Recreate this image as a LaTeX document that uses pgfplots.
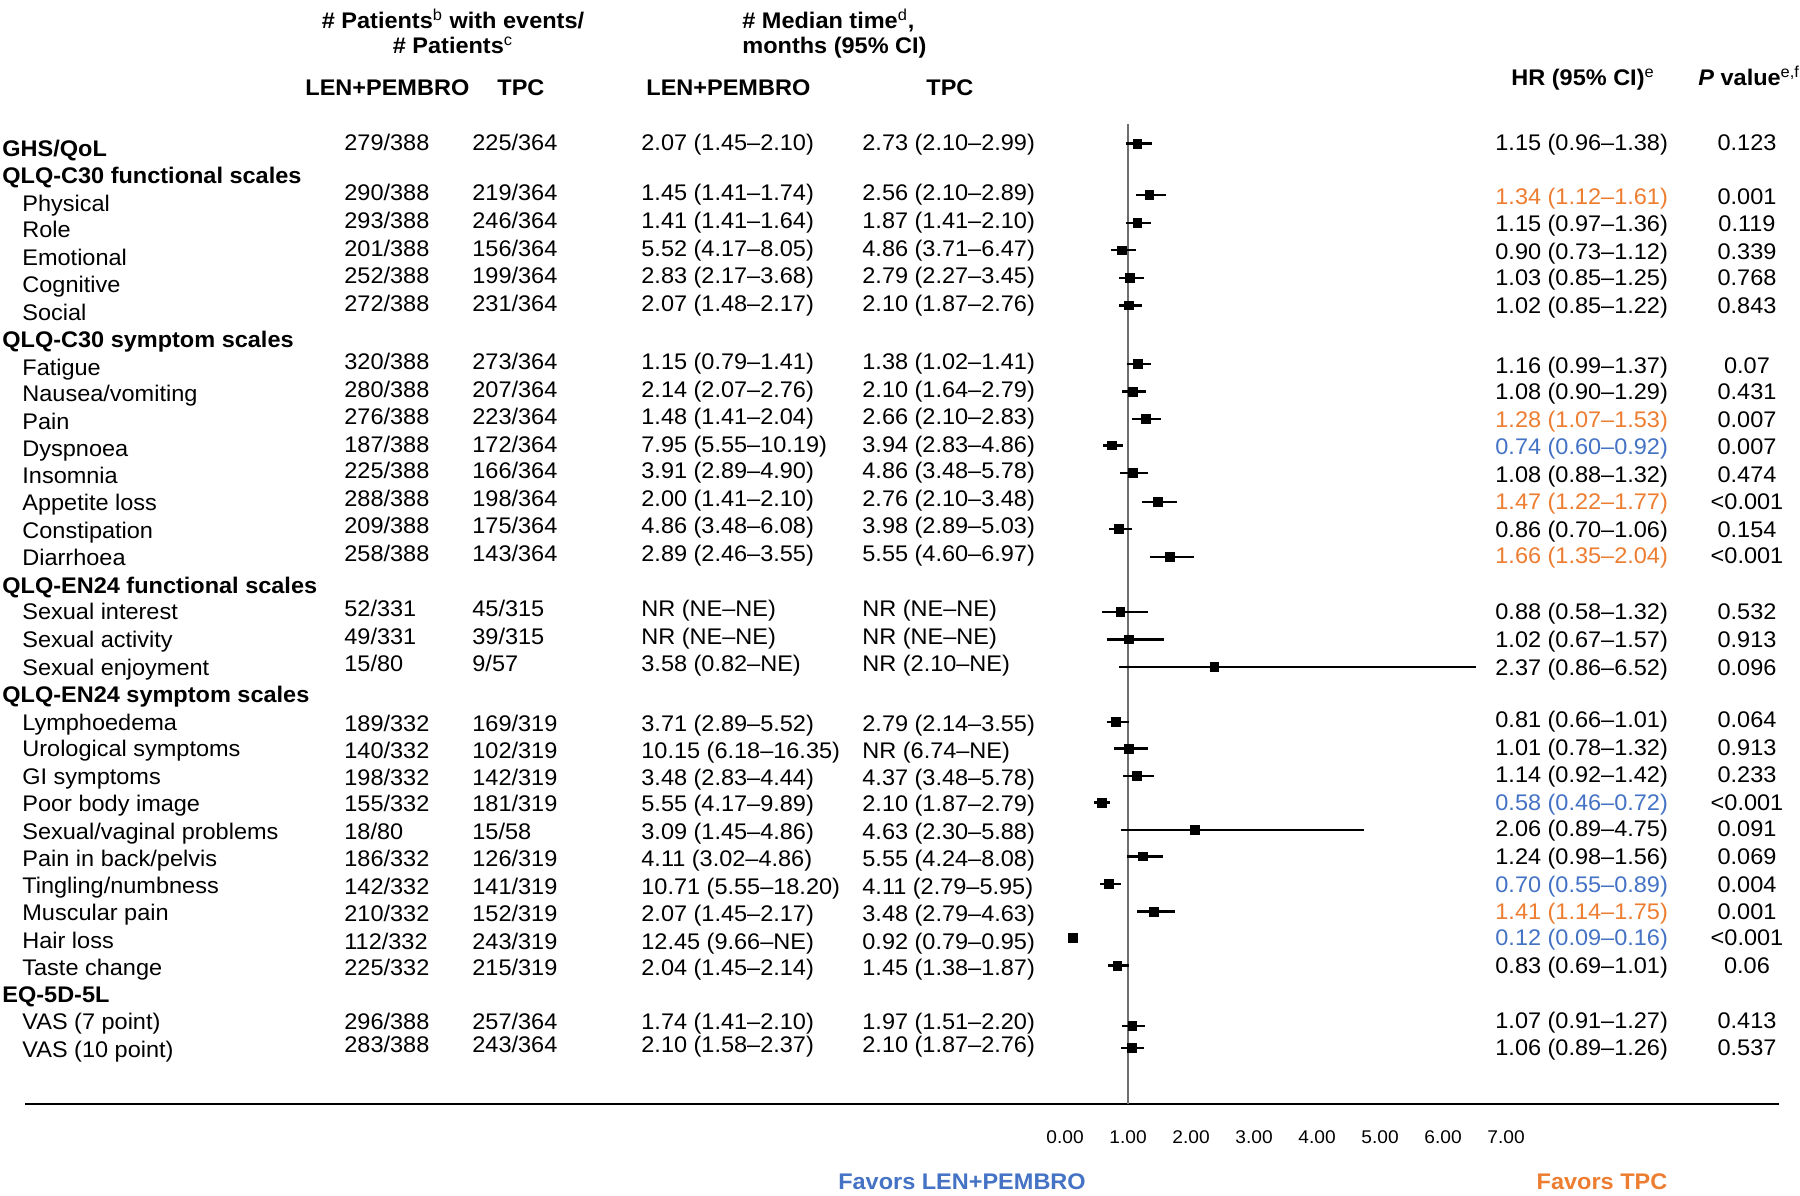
\documentclass[border=0pt]{standalone}
\usepackage{fontspec}
\setmainfont{Liberation Sans}[FakeStretch=1.04]
\usepackage{pgfplots}
\pgfplotsset{compat=1.18}
\usepackage{pgfplotstable}
\definecolor{favblue}{HTML}{4472C4}
\definecolor{favorange}{HTML}{ED7D31}
\definecolor{refgray}{HTML}{6E6E6E}

% y = -(row position in pixels), hr = hazard ratio, lo/hi = 95% CI
\pgfplotstableread{
y hr lo hi
-143.5 1.15 0.96 1.38
-195.2 1.34 1.12 1.61
-222.7 1.15 0.97 1.36
-250.3 0.90 0.73 1.12
-277.8 1.03 0.85 1.25
-305.4 1.02 0.85 1.22
-363.9 1.16 0.99 1.37
-391.5 1.08 0.90 1.29
-419.0 1.28 1.07 1.53
-445.4 0.74 0.60 0.92
-473.0 1.08 0.88 1.32
-501.7 1.47 1.22 1.77
-529.2 0.86 0.70 1.06
-556.8 1.66 1.35 2.04
-611.9 0.88 0.58 1.32
-639.4 1.02 0.67 1.57
-667.0 2.37 0.86 6.52
-722.0 0.81 0.66 1.01
-748.5 1.01 0.78 1.32
-776.0 1.14 0.92 1.42
-802.5 0.58 0.46 0.72
-830.0 2.06 0.89 4.75
-856.4 1.24 0.98 1.56
-884.0 0.70 0.55 0.89
-911.5 1.41 1.14 1.75
-937.9 0.12 0.09 0.16
-965.5 0.83 0.69 1.01
-1026.0 1.07 0.91 1.27
-1048.0 1.06 0.89 1.26
}\hrdata

\tikzset{
  t/.style={anchor=base west, inner sep=0pt, yshift=-4pt},
  tc/.style={anchor=base, inner sep=0pt, yshift=-4pt},
}
\newcommand\sups[1]{\textsuperscript{\mdseries #1}}
\newcommand\drow[8]{%
  \node[t] at (344,#1) {#3};
  \node[t] at (472,#1) {#4};
  \node[t] at (641,#1) {#5};
  \node[t] at (862,#1) {#6};
  \node[t] at (1495,#2) {#7};
  \node[tc] at (1747,#2) {#8};}
\newcommand\grp[2]{\node[t] at (2,#1) {\bfseries #2};}
\newcommand\lab[2]{\node[t] at (22,#1) {#2};}

\begin{document}
\fontsize{11.3}{13.5}\selectfont
\begin{tikzpicture}
\useasboundingbox (0pt,0pt) rectangle (900pt,-597.5pt);
\begin{axis}[
  at={(12.5pt,-552pt)}, anchor=south west,
  scale only axis, width=877pt, height=490pt,
  xmin=-16.508, xmax=11.333, ymin=-1104, ymax=-124,
  axis x line=bottom, axis y line=none,
  x axis line style={-, line width=1.25pt, black},
  xtick={0,1,...,7},
  xticklabels={0.00,1.00,2.00,3.00,4.00,5.00,6.00,7.00},
  major tick length=0pt,
  xticklabel style={font=\fontsize{9.2}{10}\selectfont, yshift=-9.5pt},
  /pgf/number format/assume math mode=true,
  clip=false,
]
\draw[refgray, line width=1pt] (axis cs:1,-124) -- (axis cs:1,-1104);
\addplot[only marks, mark=square*, mark size=2.2pt, black,
  mark options={fill=black, draw=black},
  error bars/.cd, x dir=both, x explicit, error mark=none,
  error bar style={line width=1.1pt, black}]
  table[x=hr, y=y,
    x error plus expr=\thisrow{hi}-\thisrow{hr},
    x error minus expr=\thisrow{hr}-\thisrow{lo}] {\hrdata};
\end{axis}

\begin{scope}[x=0.5pt,y=-0.5pt]
% headers
\node[tc] at (453,20) {\bfseries \# Patients\sups{b} with events/};
\node[tc] at (453,45) {\bfseries \# Patients\sups{c}};
\node[t] at (742,20) {\bfseries \# Median time\sups{d},};
\node[t] at (742,45) {\bfseries months (95\% CI)};
\node[t] at (305,87) {\bfseries LEN+PEMBRO};
\node[t] at (497,87) {\bfseries TPC};
\node[t] at (646,87) {\bfseries LEN+PEMBRO};
\node[t] at (926,87) {\bfseries TPC};
\node[t] at (1511,77) {\bfseries HR (95\% CI)\sups{e}};
\node[t] at (1698,77) {\bfseries\itshape P\upshape\ value\sups{e,f}};

\grp{148}{GHS/QoL}
\drow{142.4}{142.4}{279/388}{225/364}{2.07 (1.45–2.10)}{2.73 (2.10–2.99)}{1.15 (0.96–1.38)}{0.123}
\grp{175.6}{QLQ-C30 functional scales}
\lab{203}{Physical}
\drow{192.9}{196.3}{290/388}{219/364}{1.45 (1.41–1.74)}{2.56 (2.10–2.89)}{\color{favorange}1.34 (1.12–1.61)}{0.001}
\lab{229.6}{Role}
\drow{220.4}{223.9}{293/388}{246/364}{1.41 (1.41–1.64)}{1.87 (1.41–2.10)}{1.15 (0.97–1.36)}{0.119}
\lab{257}{Emotional}
\drow{248}{251.4}{201/388}{156/364}{5.52 (4.17–8.05)}{4.86 (3.71–6.47)}{0.90 (0.73–1.12)}{0.339}
\lab{284.7}{Cognitive}
\drow{275.5}{277.8}{252/388}{199/364}{2.83 (2.17–3.68)}{2.79 (2.27–3.45)}{1.03 (0.85–1.25)}{0.768}
\lab{312}{Social}
\drow{303}{305.4}{272/388}{231/364}{2.07 (1.48–2.17)}{2.10 (1.87–2.76)}{1.02 (0.85–1.22)}{0.843}
\grp{339.8}{QLQ-C30 symptom scales}
\lab{367}{Fatigue}
\drow{361.6}{365}{320/388}{273/364}{1.15 (0.79–1.41)}{1.38 (1.02–1.41)}{1.16 (0.99–1.37)}{0.07}
\lab{393.8}{Nausea/vomiting}
\drow{389.2}{391.5}{280/388}{207/364}{2.14 (2.07–2.76)}{2.10 (1.64–2.79)}{1.08 (0.90–1.29)}{0.431}
\lab{421.3}{Pain}
\drow{416.7}{419}{276/388}{223/364}{1.48 (1.41–2.04)}{2.66 (2.10–2.83)}{\color{favorange}1.28 (1.07–1.53)}{0.007}
\lab{448.9}{Dyspnoea}
\drow{444.3}{446.6}{187/388}{172/364}{7.95 (5.55–10.19)}{3.94 (2.83–4.86)}{\color{favblue}0.74 (0.60–0.92)}{0.007}
\lab{475.3}{Insomnia}
\drow{470.7}{474.1}{225/388}{166/364}{3.91 (2.89–4.90)}{4.86 (3.48–5.78)}{1.08 (0.88–1.32)}{0.474}
\lab{502.8}{Appetite loss}
\drow{498.2}{501.7}{288/388}{198/364}{2.00 (1.41–2.10)}{2.76 (2.10–3.48)}{\color{favorange}1.47 (1.22–1.77)}{<0.001}
\lab{530.4}{Constipation}
\drow{525.8}{529.2}{209/388}{175/364}{4.86 (3.48–6.08)}{3.98 (2.89–5.03)}{0.86 (0.70–1.06)}{0.154}
\lab{557.9}{Diarrhoea}
\drow{553.3}{555.6}{258/388}{143/364}{2.89 (2.46–3.55)}{5.55 (4.60–6.97)}{\color{favorange}1.66 (1.35–2.04)}{<0.001}
\grp{585.5}{QLQ-EN24 functional scales}
\lab{611.9}{Sexual interest}
\drow{608.4}{611.9}{52/331}{45/315}{NR (NE–NE)}{NR (NE–NE)}{0.88 (0.58–1.32)}{0.532}
\lab{639.4}{Sexual activity}
\drow{636}{639.4}{49/331}{39/315}{NR (NE–NE)}{NR (NE–NE)}{1.02 (0.67–1.57)}{0.913}
\lab{667}{Sexual enjoyment}
\drow{663.5}{667}{15/80}{9/57}{3.58 (0.82–NE)}{NR (2.10–NE)}{2.37 (0.86–6.52)}{0.096}
\grp{694.5}{QLQ-EN24 symptom scales}
\lab{722}{Lymphoedema}
\drow{723.2}{719.8}{189/332}{169/319}{3.71 (2.89–5.52)}{2.79 (2.14–3.55)}{0.81 (0.66–1.01)}{0.064}
\lab{748.5}{Urological symptoms}
\drow{750.8}{747.3}{140/332}{102/319}{10.15 (6.18–16.35)}{NR (6.74–NE)}{1.01 (0.78–1.32)}{0.913}
\lab{776}{GI symptoms}
\drow{777.2}{774.9}{198/332}{142/319}{3.48 (2.83–4.44)}{4.37 (3.48–5.78)}{1.14 (0.92–1.42)}{0.233}
\lab{803.6}{Poor body image}
\drow{803.6}{802.5}{155/332}{181/319}{5.55 (4.17–9.89)}{2.10 (1.87–2.79)}{\color{favblue}0.58 (0.46–0.72)}{<0.001}
\lab{831}{Sexual/vaginal problems}
\drow{831.2}{828.9}{18/80}{15/58}{3.09 (1.45–4.86)}{4.63 (2.30–5.88)}{2.06 (0.89–4.75)}{0.091}
\lab{858.7}{Pain in back/pelvis}
\drow{858.7}{856.4}{186/332}{126/319}{4.11 (3.02–4.86)}{5.55 (4.24–8.08)}{1.24 (0.98–1.56)}{0.069}
\lab{885}{Tingling/numbness}
\drow{886.3}{884}{142/332}{141/319}{10.71 (5.55–18.20)}{4.11 (2.79–5.95)}{\color{favblue}0.70 (0.55–0.89)}{0.004}
\lab{912.7}{Muscular pain}
\drow{913.8}{911.5}{210/332}{152/319}{2.07 (1.45–2.17)}{3.48 (2.79–4.63)}{\color{favorange}1.41 (1.14–1.75)}{0.001}
\lab{940}{Hair loss}
\drow{941.4}{937.9}{112/332}{243/319}{12.45 (9.66–NE)}{0.92 (0.79–0.95)}{\color{favblue}0.12 (0.09–0.16)}{<0.001}
\lab{967.8}{Taste change}
\drow{967.8}{965.5}{225/332}{215/319}{2.04 (1.45–2.14)}{1.45 (1.38–1.87)}{0.83 (0.69–1.01)}{0.06}
\grp{994}{EQ-5D-5L}
\lab{1021.7}{VAS (7 point)}
\drow{1021.7}{1020.6}{296/388}{257/364}{1.74 (1.41–2.10)}{1.97 (1.51–2.20)}{1.07 (0.91–1.27)}{0.413}
\lab{1049}{VAS (10 point)}
\drow{1044.7}{1047}{283/388}{243/364}{2.10 (1.58–2.37)}{2.10 (1.87–2.76)}{1.06 (0.89–1.26)}{0.537}

% favours labels
\node[tc, text=favblue] at (962,1181) {\bfseries Favors LEN+PEMBRO};
\node[tc, text=favorange] at (1602,1181) {\bfseries Favors TPC};
\end{scope}
\end{tikzpicture}
\end{document}
